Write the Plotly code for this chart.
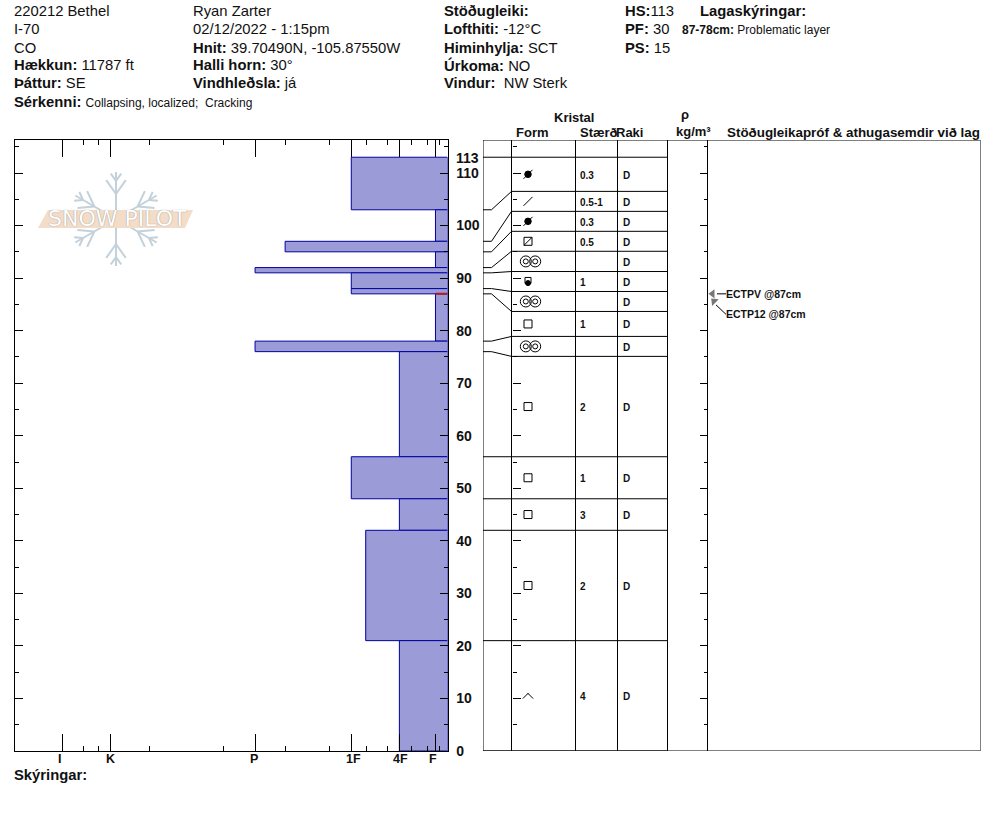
import math
import plotly.graph_objects as go

W, H = 994, 840

# ---- hardness profile (one entry per layer, top to bottom) ----
layer_top = [113, 103, 97, 95, 92, 91, 88, 87, 78, 76, 56, 48, 42, 21]
layer_bottom = [103, 97, 95, 92, 91, 88, 87, 78, 76, 56, 48, 42, 21, 0]
layer_hardness = [8, 1, 13.5, 1, 16, 8, 8, 1, 16, 4, 8, 4, 6.8, 4]
problem_depth = 87

hard_ticks = [1, 4, 8, 16, 28, 32]
hard_labels = ["F", "4F", "1F", "P", "K", "I"]
hard_label_shift = [-2, 1.5, 2, -1, 0, -3]
hard_minor = [0.67, 1.67, 3, 5, 6.75, 9.8, 13.5, 18.6, 24.8, 29, 30.3]
depth_ticks = [0, 10, 20, 30, 40, 50, 60, 70, 80, 90, 100, 110]

# ---- table rows: edges on the depth scale, contents per row ----
row_edges = [113, 106.5, 102.7, 98.9, 95.1, 91.25, 87.45, 83.65, 78.9, 75.1, 56, 48, 42, 21, 0]
row_form = ["blob", "slash", "blob", "sqslash", "rings", "half", "rings",
            "square", "rings", "square", "square", "square", "square", "chevron"]
row_size = ["0.3", "0.5-1", "0.3", "0.5", "", "1", "", "1", "", "2", "1", "3", "2", "4"]
row_wet = ["D"] * 14

# ---- table columns (in table units) ----
col_edges = [0, 28.5, 92.5, 134.5, 184.5, 224.5, 497.5]
lane_knee = 8.5
form_x = 45
size_x = 97
wet_x = 140
test_x = 225

tests = ["ECTPV @87cm", "ECTP12 @87cm"]

TXT = "#111111"
FONT = "Liberation Sans, Arial, sans-serif"
TEXT_NUDGE = 0.35


def px(x):
    return x / W


def py(y):
    return 1 - y / H


fig = go.Figure()

# profile bars
fig.add_trace(go.Bar(
    orientation="h",
    x=layer_hardness,
    y=layer_bottom,
    base=0,
    width=[t - b for t, b in zip(layer_top, layer_bottom)],
    offset=0,
    marker=dict(color="#9b9bd7", line=dict(color="#0000a0", width=1)),
    xaxis="x", yaxis="y", showlegend=False, hoverinfo="skip",
))
fig.add_trace(go.Scatter(
    x=[layer_hardness[7], 0], y=[problem_depth, problem_depth], mode="lines",
    line=dict(color="#b01c1c", width=2), xaxis="x", yaxis="y", showlegend=False, hoverinfo="skip",
))

# table grid
grid_x, grid_y = [], []
for e in row_edges:
    grid_x += [col_edges[1], col_edges[4], None]
    grid_y += [e, e, None]
for c in col_edges:
    grid_x += [c, c, None]
    grid_y += [0, 116.28, None]
grid_x += [col_edges[2], col_edges[2], None]
grid_y += [116.28, 117.2, None]
grid_x += [col_edges[0], col_edges[-1], None, col_edges[0], col_edges[-1], None]
grid_y += [0, 0, None, 116.28, 116.28, None]
# connectors from real layer depth to table row
for d, e in zip([113] + layer_bottom, row_edges):
    grid_x += [col_edges[0], lane_knee, col_edges[1], None]
    grid_y += [d, d, e, None]
fig.add_trace(go.Scatter(
    x=grid_x, y=grid_y, mode="lines", line=dict(color="black", width=1),
    xaxis="x2", yaxis="y2", showlegend=False, hoverinfo="skip", cliponaxis=False,
))

mids = [(a + b) / 2 for a, b in zip(row_edges[:-1], row_edges[1:])]


def add_marks(xs, ys, symbol, size, lw=1):
    fig.add_trace(go.Scatter(
        x=xs, y=ys, mode="markers", xaxis="x2", yaxis="y2", showlegend=False, hoverinfo="skip",
        marker=dict(symbol=symbol, size=size, color="black", line=dict(color="black", width=lw)),
    ))


def rows_of(*kinds):
    return [m for m, f in zip(mids, row_form) if f in kinds]


add_marks([form_x] * len(rows_of("blob")), rows_of("blob"), "circle", 6.5)
add_marks([form_x] * len(rows_of("blob")), rows_of("blob"), "line-ne", 9)
add_marks([form_x] * len(rows_of("slash")), rows_of("slash"), "line-ne", 9)
add_marks([form_x] * len(rows_of("sqslash")), rows_of("sqslash"), "square-open", 8)
add_marks([form_x] * len(rows_of("sqslash")), rows_of("sqslash"), "line-ne", 8)
add_marks([form_x] * len(rows_of("square")), rows_of("square"), "square-open", 8)
add_marks([form_x] * len(rows_of("half")), [m + 0.2 for m in rows_of("half")], "square-open", 6)
add_marks([form_x] * len(rows_of("half")), [m - 0.3 for m in rows_of("half")], "circle", 5)
ring_y = rows_of("rings")
for off in (-4.7, 4.7):
    add_marks([form_x + 2.5 + off] * len(ring_y), ring_y, "circle-open", 11)
    add_marks([form_x + 2.5 + off] * len(ring_y), ring_y, "circle-open", 5)
add_marks([form_x - 2.4] * len(rows_of("chevron")), rows_of("chevron"), "line-ne", 5.5)
add_marks([form_x + 2.4] * len(rows_of("chevron")), rows_of("chevron"), "line-nw", 5.5)

small_bold = dict(family=FONT, size=10, color=TXT, weight="bold")
text_y = [m - TEXT_NUDGE for m in mids]
fig.add_trace(go.Scatter(
    x=[size_x] * 14, y=text_y, mode="text", text=row_size, textposition="middle right",
    textfont=small_bold, xaxis="x2", yaxis="y2", showlegend=False, hoverinfo="skip",
))
fig.add_trace(go.Scatter(
    x=[wet_x] * 14, y=text_y, mode="text", text=row_wet, textposition="middle right",
    textfont=small_bold, xaxis="x2", yaxis="y2", showlegend=False, hoverinfo="skip",
))

# stability test call-outs
fig.add_trace(go.Scatter(
    x=[test_x + 18, test_x + 9, None, test_x + 18, test_x + 8], y=[87, 87, None, 83.1, 84.9],
    mode="lines", line=dict(color="black", width=1), xaxis="x2", yaxis="y2",
    showlegend=False, hoverinfo="skip",
))
fig.add_trace(go.Scatter(
    x=[test_x + 4.5, test_x + 6], y=[87, 85.6], mode="markers",
    marker=dict(symbol=["triangle-left", "triangle-up"], size=8, color="#777777", angle=[0, -45]),
    xaxis="x2", yaxis="y2", showlegend=False, hoverinfo="skip",
))
test_text = dict(family=FONT, size=10.5, color=TXT, weight="bold")
fig.add_trace(go.Scatter(
    x=[test_x + 18, test_x + 18], y=[87 - TEXT_NUDGE, 83.2 - TEXT_NUDGE], mode="text", text=tests,
    textposition="middle right",
    textfont=test_text, xaxis="x2", yaxis="y2", showlegend=False, hoverinfo="skip",
))

# invisible anchors so the extra tick axes are drawn
for ya in ("y3", "y4"):
    fig.add_trace(go.Scatter(x=[0], y=[0], mode="markers", marker=dict(opacity=0), xaxis="x2", yaxis=ya,
                             showlegend=False, hoverinfo="skip"))

DEPTH_RANGE = [0, 116.28]
tick_axis = dict(range=DEPTH_RANGE, tickmode="array", tickvals=depth_ticks, ticks="inside", ticklen=8,
                 tickcolor="black", showticklabels=False, showgrid=False, zeroline=False, automargin=False,
                 minor=dict(tickvals=[v + 5 for v in depth_ticks], ticks="inside", ticklen=4,
                            tickcolor="black", showgrid=False))

fig.update_layout(
    width=W, height=H, margin=dict(l=0, r=0, t=0, b=0), paper_bgcolor="white", plot_bgcolor="white",
    barmode="overlay", showlegend=False,
    font=dict(family=FONT, color=TXT),
    xaxis=dict(domain=[px(14.5), px(447.5)], range=[36, 0], anchor="y", side="bottom", automargin=False,
               tickmode="array", tickvals=hard_ticks, ticktext=[""] * 6, ticks="inside", ticklen=17,
               tickcolor="black", showline=True, linecolor="black", linewidth=1, mirror="ticks",
               showgrid=False, zeroline=False,
               minor=dict(tickvals=hard_minor, ticks="inside", ticklen=5, tickcolor="black", showgrid=False)),
    yaxis=dict(domain=[py(751), py(140)], range=DEPTH_RANGE, anchor="x", side="right", automargin=False,
               tickmode="array", tickvals=depth_ticks, ticks="inside", ticklen=8, tickcolor="black",
               tickfont=dict(family=FONT, size=14, color=TXT, weight="bold"), ticklabelstandoff=5,
               showline=True, linecolor="black", linewidth=1, mirror="ticks",
               showgrid=False, zeroline=False,
               minor=dict(tickvals=[v + 5 for v in depth_ticks], ticks="inside", ticklen=4,
                          tickcolor="black", showgrid=False)),
    xaxis2=dict(domain=[px(483), px(980.5)], range=[0, 497.5], anchor="y2", visible=False, automargin=False),
    yaxis2=dict(domain=[py(751), py(140)], range=DEPTH_RANGE, anchor="x2", visible=False, automargin=False),
    yaxis3=dict(overlaying="y2", anchor="free", position=px(511.5), side="left", **tick_axis),
    yaxis4=dict(overlaying="y2", anchor="free", position=px(707.5), side="right", **tick_axis),
)

ann = []


def text(x, y, s, size=14.8, anchor="left"):
    shift = -2 if anchor == "left" else 0
    ann.append(dict(x=px(x), y=py(y), xref="paper", yref="paper", text=s, showarrow=False, xshift=shift,
                    xanchor=anchor, yanchor="middle", align="left", font=dict(family=FONT, size=size, color=TXT)))


small = lambda s: f'<span style="font-size:12px">{s}</span>'
header = [
    (14, 11.5, "220212 Bethel"), (14, 29.5, "I-70"), (14, 47.5, "CO"),
    (14, 65.5, "<b>Hækkun:</b> 11787 ft"), (14, 83.5, "<b>Þáttur:</b> SE"),
    (14, 101.5, "<b>Sérkenni:</b> " + small("Collapsing, localized;  Cracking")),
    (193, 11.5, "Ryan Zarter"), (193, 29.5, "02/12/2022 - 1:15pm"),
    (193, 47.5, "<b>Hnit:</b> 39.70490N, -105.87550W"),
    (193, 65.5, "<b>Halli horn:</b> 30°"), (193, 83.5, "<b>Vindhleðsla:</b> já"),
    (444, 11.5, "<b>Stöðugleiki:</b>"), (444, 29.5, "<b>Lofthiti:</b> -12°C"),
    (444, 47.5, "<b>Himinhylja:</b> SCT"), (444, 65.5, "<b>Úrkoma:</b> NO"),
    (444, 83.5, "<b>Vindur:</b>  NW Sterk"),
    (625, 11.5, "<b>HS:</b>113"), (625, 29.5, "<b>PF:</b> 30"), (625, 47.5, "<b>PS:</b> 15"),
    (700, 11.5, "<b>Lagaskýringar:</b>"),
]
for x, y, s in header:
    text(x, y, s)
text(682, 30, "<b>87-78cm:</b> Problematic layer", 12)
text(14, 775, "<b>Skýringar:</b>", 14.8)
text(456, 157.5, "<b>113</b>", 14)

for x, s in [(516, "Form"), (580, "Stærð"), (616, "Raki")]:
    text(x, 132.5, f"<b>{s}</b>", 13)
text(574, 117.5, "<b>Kristal</b>", 13, "center")
text(685, 115, "<b>ρ</b>", 13, "center")
text(693, 131.5, "<b>kg/m³</b>", 13, "center")
text(727, 132, "<b>Stöðugleikapróf &amp; athugasemdir við lag</b>", 13.4)

for v, s, shift in zip(hard_ticks, hard_labels, hard_label_shift):
    ann.append(dict(x=v, y=0, xref="x", yref="y", text=f"<b>{s}</b>", showarrow=False, xshift=shift, yshift=-8,
                    yanchor="middle", font=dict(family=FONT, size=12.5, color=TXT)))

# logo
ann.append(dict(x=px(117), y=py(219), xref="paper", yref="paper", text="SNOW PILOT", showarrow=False,
                xanchor="center", yanchor="middle",
                font=dict(family="DejaVu Sans", size=22, color="white", shadow="0 0 1px #777777")))

shapes = []
FLAKE = "#c3d1db"


def seg(x0, y0, x1, y1, w=2):
    shapes.append(dict(type="line", xref="paper", yref="paper", layer="below",
                       x0=px(x0), y0=py(y0), x1=px(x1), y1=py(y1), line=dict(color=FLAKE, width=w)))


cx, cy = 116, 219
for ang in (90, 270, 30, 150, 210, 330):
    a = math.radians(ang)
    ux, uy = math.cos(a), -math.sin(a)
    seg(cx, cy, cx + 47 * ux, cy + 47 * uy)
    for d, l in ((25, 17), (38, 9)):
        for s in (35, -35):
            b = a + math.radians(s)
            bx, by = math.cos(b), -math.sin(b)
            seg(cx + d * ux, cy + d * uy, cx + d * ux + l * bx, cy + d * uy + l * by)
shapes.append(dict(type="path", xref="paper", yref="paper", layer="below",
                   path=f"M {px(38)} {py(228)} L {px(48)} {py(210)} L {px(193)} {py(210)} L {px(185)} {py(228)} Z",
                   fillcolor="#f3dcc8", line=dict(width=0)))

fig.update_layout(annotations=ann, shapes=shapes)
fig.write_html("out.html", post_script="document.body.style.margin='0';", config=dict(displayModeBar=False))
